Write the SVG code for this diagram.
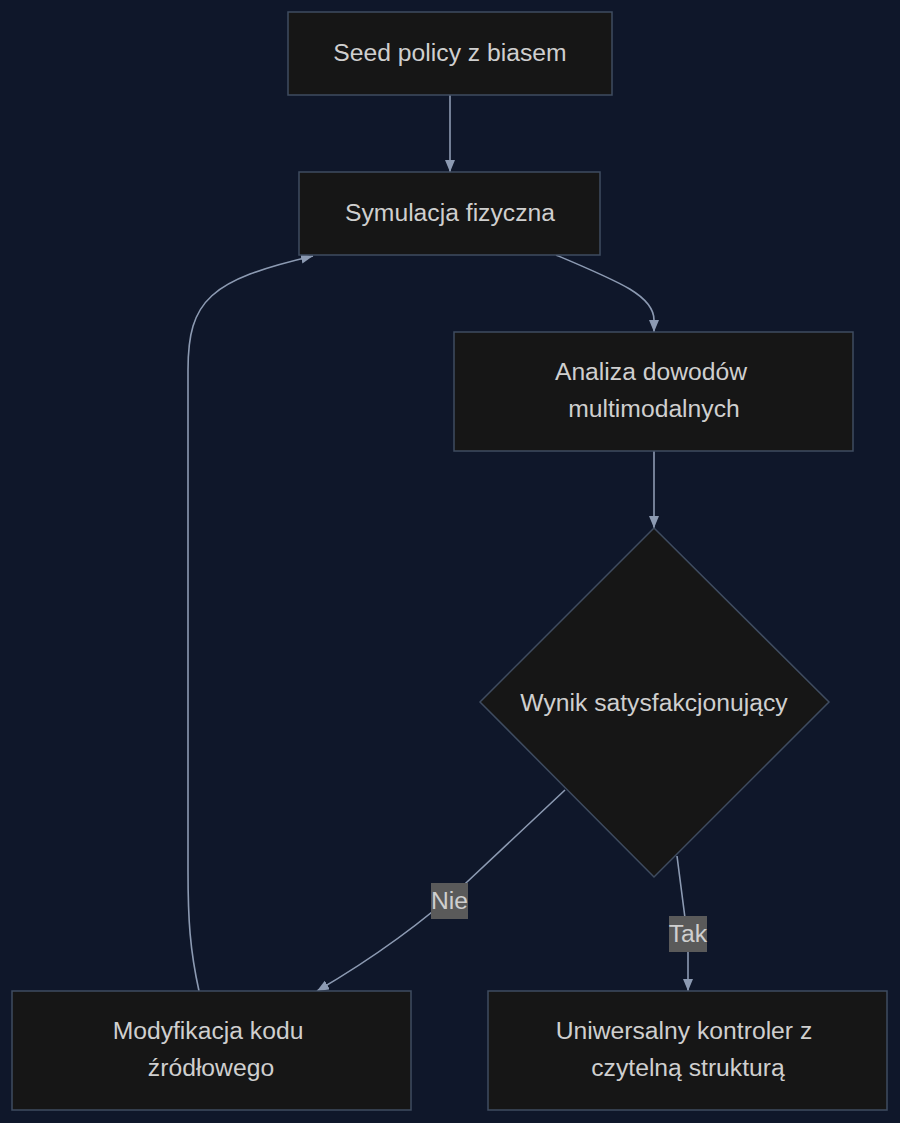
<svg xmlns="http://www.w3.org/2000/svg" width="900" height="1123" viewBox="0 0 900 1123">
<style>
.n{fill:#161616;stroke:#3f4c60;stroke-width:1.5}
.t{font-family:"Liberation Sans",Arial,sans-serif;font-size:24.7px;fill:#cfcfcf;text-anchor:middle}
.e{fill:none;stroke:#8c9ab2;stroke-width:1.6}
.lb{fill:#5a5a5a}
</style>
<defs>
<marker id="a" viewBox="0 0 12 10" refX="12" refY="5" markerWidth="12" markerHeight="10" markerUnits="userSpaceOnUse" orient="auto">
<path d="M0,0 L12,5 L0,10 z" fill="#8c9ab2"/>
</marker>
</defs>
<rect width="900" height="1123" fill="#0f172a"/>
<g id="edges">
<path class="e" d="M450,95 L450,172" marker-end="url(#a)"/>
<path class="e" d="M556,255 C620,282 654,296 654,320 L654,332" marker-end="url(#a)"/>
<path class="e" d="M654,451 L654,528" marker-end="url(#a)"/>
<path class="e" d="M565,790 L467,882 C420,925 370,960 317,991" marker-end="url(#a)"/>
<path class="e" d="M677,856 L685,918 L688,950 L688,991" marker-end="url(#a)"/>
<path class="e" d="M199,991 C190,950 188,920 188,870 L188,370 C188,300 210,280 313,256" marker-end="url(#a)"/>
<rect class="lb" x="431" y="883" width="37" height="36"/>
<text class="t" x="449.5" y="909">Nie</text>
<rect class="lb" x="669" y="916" width="38" height="36"/>
<text class="t" x="688" y="942">Tak</text>
</g>
<g id="seed"><rect class="n" x="288" y="12" width="324" height="83"/><text class="t" x="450" y="61">Seed policy z biasem</text></g>
<g id="sym"><rect class="n" x="299" y="172" width="301" height="83"/><text class="t" x="450" y="221">Symulacja fizyczna</text></g>
<g id="analiza"><rect class="n" x="454" y="332" width="399" height="119"/><text class="t" x="651" y="380">Analiza dowodów</text><text class="t" x="654" y="417">multimodalnych</text></g>
<g id="wynik"><path class="n" d="M654,528 L829,702 L654,877 L480,702 Z"/><text class="t" x="654" y="711">Wynik satysfakcjonujący</text></g>
<g id="modyfikacja"><rect class="n" x="12" y="991" width="399" height="119"/><text class="t" x="208" y="1039">Modyfikacja kodu</text><text class="t" x="211" y="1076">źródłowego</text></g>
<g id="uniwersalny"><rect class="n" x="488" y="991" width="399" height="119"/><text class="t" x="684" y="1039">Uniwersalny kontroler z</text><text class="t" x="688" y="1076">czytelną strukturą</text></g>
</svg>
